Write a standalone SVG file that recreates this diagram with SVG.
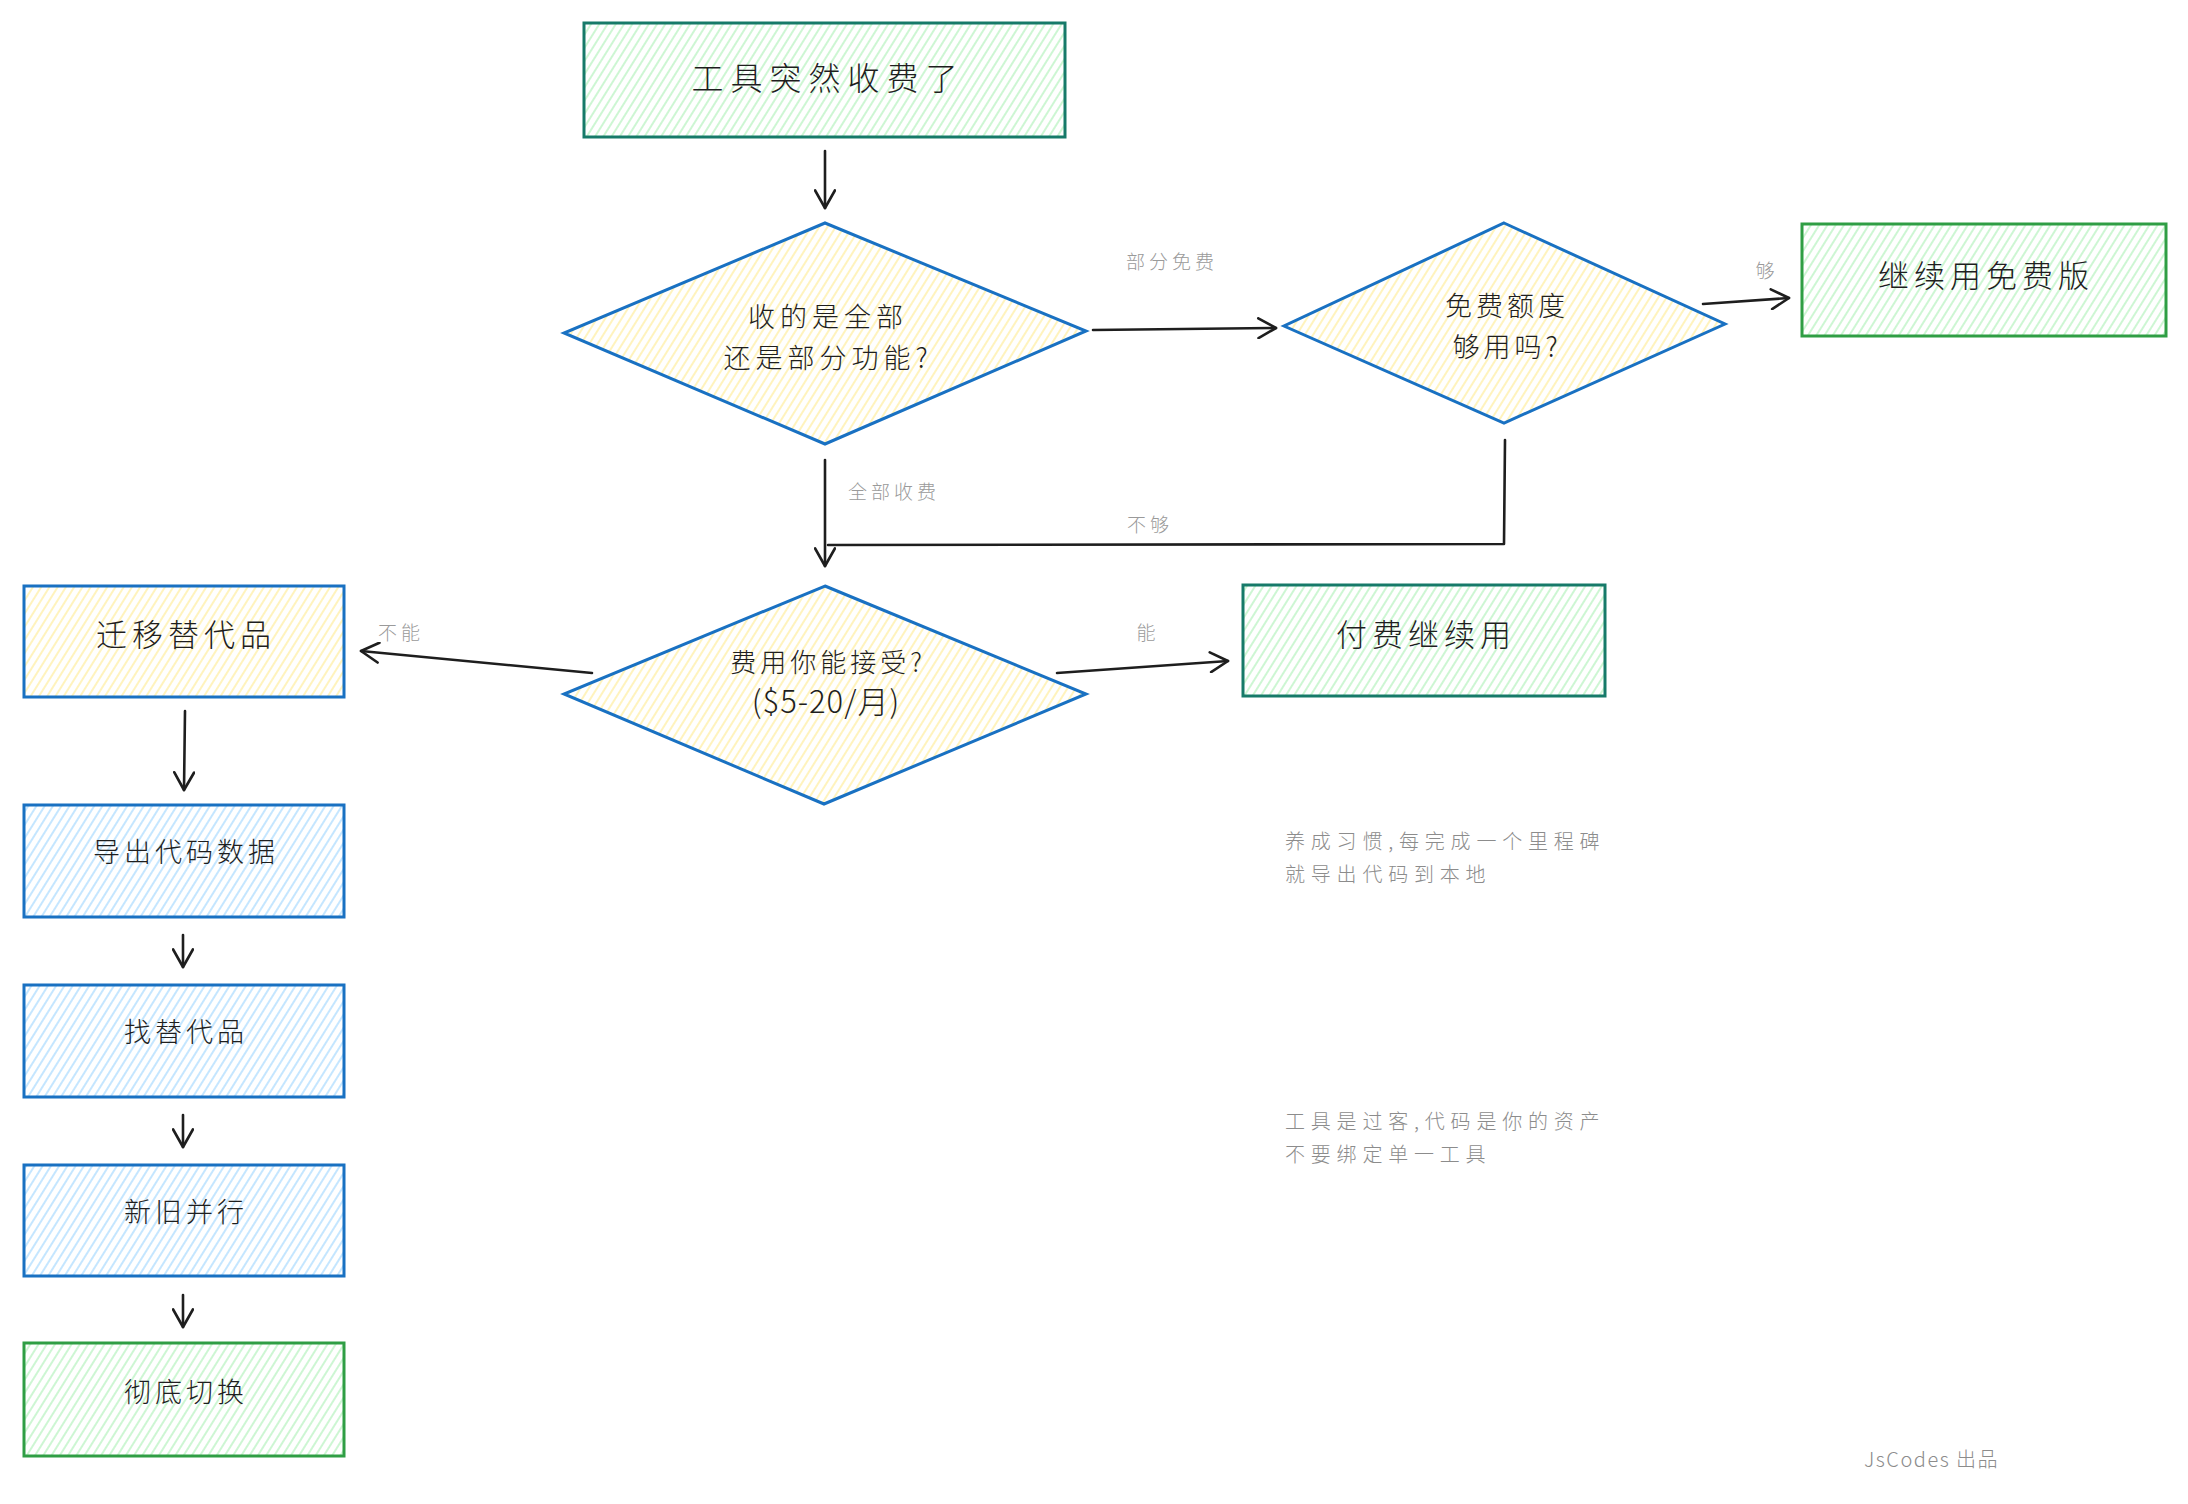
<svg xmlns="http://www.w3.org/2000/svg" width="2188" height="1504" viewBox="0 0 2188 1504">
<style>
.txt{font-family:"Noto Sans CJK SC","Liberation Sans",sans-serif;font-weight:300;fill:#1e1e1e;text-anchor:middle;dominant-baseline:central}
.lbl{font-family:"Noto Sans CJK SC","Liberation Sans",sans-serif;font-weight:300;fill:#9a9a9a;font-size:19px;letter-spacing:4px;text-anchor:middle;dominant-baseline:central}
.note{font-family:"Noto Sans CJK SC","Liberation Sans",sans-serif;font-weight:300;fill:#8c8c8c;font-size:20px;letter-spacing:5.8px}
.conn{fill:none;stroke:#1e1e1e;stroke-width:2.6;stroke-linecap:round;stroke-linejoin:round}
.teal{stroke:#167a69;stroke-width:3;fill:url(#hg)}
.green{stroke:#2f9e44;stroke-width:3;fill:url(#hg)}
.blueY{stroke:#1971c2;stroke-width:3;fill:url(#hy)}
.blueB{stroke:#1971c2;stroke-width:3;fill:url(#hb)}
</style>
<defs>
<pattern id="hg" width="7" height="7" patternUnits="userSpaceOnUse" patternTransform="rotate(32)"><line x1="3" y1="0" x2="3" y2="7" stroke="#b2f2bb" stroke-width="1.3"/></pattern>
<pattern id="hy" width="7" height="7" patternUnits="userSpaceOnUse" patternTransform="rotate(32)"><line x1="3" y1="0" x2="3" y2="7" stroke="#ffec99" stroke-width="1.3"/></pattern>
<pattern id="hb" width="7" height="7" patternUnits="userSpaceOnUse" patternTransform="rotate(32)"><line x1="3" y1="0" x2="3" y2="7" stroke="#a5d8ff" stroke-width="1.3"/></pattern>
<marker id="ah" viewBox="0 0 20 20" refX="18" refY="10" markerWidth="22" markerHeight="22" markerUnits="userSpaceOnUse" orient="auto"><path d="M2,1 L18,10 L2,19" fill="none" stroke="#1e1e1e" stroke-width="2.4" stroke-linecap="round" stroke-linejoin="round"/></marker>
</defs>
<rect width="2188" height="1504" fill="#ffffff"/>

<g id="connectors">
<path class="conn" d="M825,151 L825,208" marker-end="url(#ah)"/>
<path class="conn" d="M1093,330 L1276,328" marker-end="url(#ah)"/>
<path class="conn" d="M1703,304 L1789,298" marker-end="url(#ah)"/>
<path class="conn" d="M825,460 L825,566" marker-end="url(#ah)"/>
<path class="conn" d="M1505,440 L1504,544 L828,545"/>
<path class="conn" d="M592,673 L361,651" marker-end="url(#ah)"/>
<path class="conn" d="M1057,673 L1228,661" marker-end="url(#ah)"/>
<path class="conn" d="M185,711 L184,790" marker-end="url(#ah)"/>
<path class="conn" d="M183,935 L183,967" marker-end="url(#ah)"/>
<path class="conn" d="M183,1115 L183,1147" marker-end="url(#ah)"/>
<path class="conn" d="M183,1295 L183,1327" marker-end="url(#ah)"/>
<text class="lbl" x="1172" y="260">部分免费</text>
<text class="lbl" x="1767" y="269">够</text>
<text class="lbl" x="894" y="490">全部收费</text>
<text class="lbl" x="1150" y="523">不够</text>
<text class="lbl" x="401" y="631">不能</text>
<text class="lbl" x="1148" y="631">能</text>
</g>

<g id="n-start">
<rect class="teal" x="584" y="23" width="481" height="114"/>
<text class="txt" x="828" y="76" font-size="32" letter-spacing="7">工具突然收费了</text>
</g>

<g id="n-q1">
<polygon class="blueY" points="825,223 1086,331 825,444 564,333"/>
<text class="txt" x="828" y="315" font-size="27" letter-spacing="5">收的是全部</text>
<text class="txt" x="828" y="356" font-size="27" letter-spacing="5">还是部分功能?</text>
</g>

<g id="n-q2">
<polygon class="blueY" points="1504,223 1725,324 1504,423 1284,326"/>
<text class="txt" x="1507" y="304" font-size="27" letter-spacing="4">免费额度</text>
<text class="txt" x="1507" y="345" font-size="27" letter-spacing="4">够用吗?</text>
</g>

<g id="n-free">
<rect class="green" x="1802" y="224" width="364" height="112"/>
<text class="txt" x="1986" y="273" font-size="31" letter-spacing="5">继续用免费版</text>
</g>

<g id="n-q3">
<polygon class="blueY" points="825,586 1086,694 824,804 564,694"/>
<text class="txt" x="828" y="660" font-size="26" letter-spacing="4">费用你能接受?</text>
<text class="txt" x="826" y="699" font-size="31" letter-spacing="1">($5-20/月)</text>
</g>

<g id="n-pay">
<rect class="teal" x="1243" y="585" width="362" height="111"/>
<text class="txt" x="1426" y="632" font-size="31" letter-spacing="5">付费继续用</text>
</g>

<g id="n-migrate">
<rect class="blueY" x="24" y="586" width="320" height="111"/>
<text class="txt" x="186" y="632" font-size="31" letter-spacing="5">迁移替代品</text>
</g>

<g id="n-export">
<rect class="blueB" x="24" y="805" width="320" height="112"/>
<text class="txt" x="186" y="850" font-size="27" letter-spacing="4">导出代码数据</text>
</g>

<g id="n-find">
<rect class="blueB" x="24" y="985" width="320" height="112"/>
<text class="txt" x="186" y="1030" font-size="27" letter-spacing="4">找替代品</text>
</g>

<g id="n-parallel">
<rect class="blueB" x="24" y="1165" width="320" height="111"/>
<text class="txt" x="186" y="1210" font-size="27" letter-spacing="4">新旧并行</text>
</g>

<g id="n-switch">
<rect class="green" x="24" y="1343" width="320" height="113"/>
<text class="txt" x="186" y="1390" font-size="27" letter-spacing="4">彻底切换</text>
</g>

<g id="notes">
<text class="note" x="1285" y="849">养成习惯,每完成一个里程碑</text>
<text class="note" x="1285" y="882">就导出代码到本地</text>
<text class="note" x="1285" y="1129">工具是过客,代码是你的资产</text>
<text class="note" x="1285" y="1162">不要绑定单一工具</text>
<text class="note" x="1864" y="1467" style="letter-spacing:1.5px">JsCodes 出品</text>
</g>
</svg>
